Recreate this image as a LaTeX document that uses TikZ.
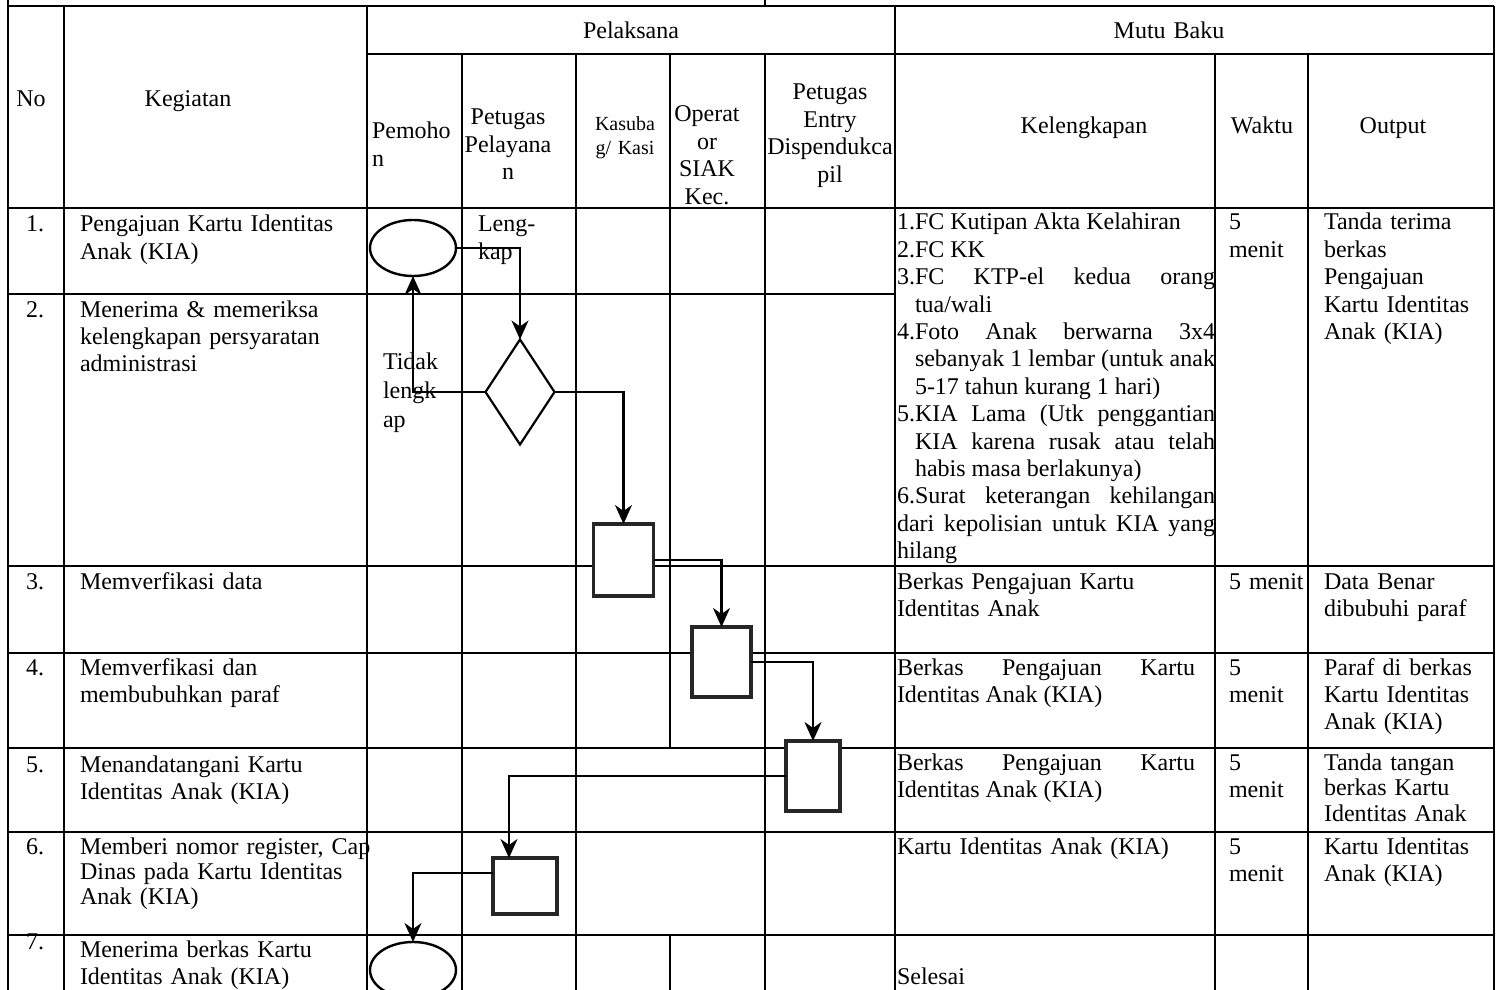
\documentclass[tikz,border=0pt]{standalone}
\usepackage{fontspec}
\setmainfont{Liberation Serif}
\usetikzlibrary{shapes.geometric,arrows.meta}

\begin{document}
\begin{tikzpicture}[x=0.5pt,y=-0.5pt,
	every node/.style={inner sep=0pt,outer sep=0pt,font=\fontsize{12}{13.7}\selectfont},
	grid/.style={line width=1pt},
	txt/.style={anchor=base west,align=left,text width=180pt},
	ctr/.style={anchor=base,align=center,text width=90pt},
	par/.style={anchor=base west,align=justify,text width=#1},
	flow/.style={line width=1.1pt,-{Stealth[length=9.5pt,width=8.5pt,inset=3pt]}},
	terminal/.style={draw,ellipse,line width=1.2pt,fill=white,minimum width=43pt,minimum height=28pt},
	decision/.style={draw,diamond,line width=1.1pt,fill=white,minimum width=34.5pt,minimum height=52.5pt},
	proc/.style={draw=black!85,line width=1.6pt,fill=white}]
		\useasboundingbox (0,0) rectangle (1496,990);
		\clip (0,0) rectangle (1496,990);
		
		\draw[grid] (8,6) -- (1494,6);
		\draw[grid] (367,54) -- (1494,54);
		\draw[grid] (8,208) -- (1494,208);
		\draw[grid] (8,294) -- (895,294);
		\draw[grid] (8,566) -- (1494,566);
		\draw[grid] (8,653) -- (1494,653);
		\draw[grid] (8,748) -- (1494,748);
		\draw[grid] (8,832) -- (1494,832);
		\draw[grid] (8,935) -- (1494,935);
		
		\draw[grid] (8,0) -- (8,990);
		\draw[grid] (64,6) -- (64,990);
		\draw[grid] (367,6) -- (367,990);
		\draw[grid] (462,54) -- (462,990);
		\draw[grid] (576,54) -- (576,990);
		\draw[grid] (670,54) -- (670,748) (670,935) -- (670,990);
		\draw[grid] (765,0) -- (765,6) (765,54) -- (765,990);
		\draw[grid] (895,6) -- (895,990);
		\draw[grid] (1215,54) -- (1215,990);
		\draw[grid] (1308,54) -- (1308,990);
		\draw[grid] (1494,6) -- (1494,990);
		
		\node[ctr] (no) at (31,107) {No};
		\node[ctr] (keg) at (188,107) {Kegiatan};
		\node[ctr] (pel) at (631,39) {Pelaksana};
		\node[ctr] (mutu) at (1169,39) {Mutu Baku};
		\node[txt] (pmh) at (372,139) {Pemoho\\n};
		\node[ctr] (ptg) at (508,125) {Petugas\\Pelayana\\n};
		\node[ctr,font=\fontsize{10}{12}\selectfont] (ksb) at (625,131) {Kasuba\\g/ Kasi};
		\node[ctr] (opr) at (707,122) {Operat\\or\\SIAK\\Kec.};
		\node[ctr] (entry) at (830,100) {Petugas\\Entry\\Dispendukca\\pil};
		\node[ctr] (kel) at (1084,134) {Kelengkapan};
		\node[ctr] (wkt) at (1262,134) {Waktu};
		\node[ctr] (outp) at (1393,134) {Output};
		
		\node[txt] (n1) at (26,232) {1.};
		\node[txt] (n2) at (26,317) {2.};
		\node[txt] (n3) at (26,589) {3.};
		\node[txt] (n4) at (26,675) {4.};
		\node[txt] (n5) at (26,772) {5.};
		\node[txt] (n6) at (26,854) {6.};
		\node[txt] (n7) at (26,949) {7.};
		\node[txt] (k1) at (80,232) {Pengajuan Kartu Identitas\\Anak (KIA)};
		\node[txt] (k2) at (80,317) {Menerima \& memeriksa\\kelengkapan persyaratan\\administrasi};
		\node[txt] (k3) at (80,589) {Memverfikasi data};
		\node[txt] (k4) at (80,675) {Memverfikasi dan\\membubuhkan paraf};
		\node[txt] (k5) at (80,772) {Menandatangani Kartu\\Identitas Anak (KIA)};
		\node[txt,font=\fontsize{12}{12.6}\selectfont] (k6) at (80,854) {Memberi nomor register, Cap\\Dinas pada Kartu Identitas\\Anak (KIA)};
		\node[txt] (k7) at (80,957) {Menerima berkas Kartu\\Identitas Anak (KIA)};
		
		\node[par=159pt] (s1) at (897,230) {\parindent=0pt\tolerance=10000\hyphenpenalty=10000\exhyphenpenalty=10000
			\hangindent=9pt\hangafter=1 1.FC Kutipan Akta Kelahiran\par
			\hangindent=9pt\hangafter=1 2.FC KK\par
			\hangindent=9pt\hangafter=1 3.FC KTP-el kedua orang\linebreak tua/wali\par
			\hangindent=9pt\hangafter=1 4.Foto Anak berwarna 3x4\linebreak sebanyak 1 lembar (untuk anak\linebreak 5-17 tahun kurang 1 hari)\par
			\hangindent=9pt\hangafter=1 5.KIA Lama (Utk penggantian\linebreak KIA karena rusak atau telah\linebreak habis masa berlakunya)\par
			\hangindent=9pt\hangafter=1 6.Surat keterangan kehilangan\linebreak dari kepolisian untuk KIA yang\linebreak hilang};
		\node[txt] (s3) at (897,589) {Berkas Pengajuan Kartu\\Identitas Anak};
		\node[par=149pt] (s4) at (897,675) {\tolerance=10000 Berkas Pengajuan Kartu\linebreak Identitas Anak (KIA)};
		\node[par=149pt] (s5) at (897,770) {\tolerance=10000 Berkas Pengajuan Kartu\linebreak Identitas Anak (KIA)};
		\node[txt] (s6) at (897,854) {Kartu Identitas Anak (KIA)};
		\node[txt] (s7) at (897,984) {Selesai};
		
		\node[txt] (w1) at (1229,230) {5\\menit};
		\node[txt] (w3) at (1229,589) {5 menit};
		\node[txt] (w4) at (1229,675) {5\\menit};
		\node[txt] (w5) at (1229,770) {5\\menit};
		\node[txt] (w6) at (1229,854) {5\\menit};
		
		\node[txt] (o1) at (1324,230) {Tanda terima\\berkas\\Pengajuan\\Kartu Identitas\\Anak (KIA)};
		\node[txt] (o3) at (1324,589) {Data Benar\\dibubuhi paraf};
		\node[txt] (o4) at (1324,675) {Paraf di berkas\\Kartu Identitas\\Anak (KIA)};
		\node[txt,font=\fontsize{12}{12.8}\selectfont] (o5) at (1324,770) {Tanda tangan\\berkas Kartu\\Identitas Anak};
		\node[txt] (o6) at (1324,854) {Kartu Identitas\\Anak (KIA)};
		
		\node[terminal] (mulai) at (413,248) {};
		\node[decision] (cek) at (520,392) {};
		\node[proc,minimum width=30pt,minimum height=36pt] (verif) at (623.5,560) {};
		\node[proc,minimum width=29.5pt,minimum height=35pt] (paraf) at (721.5,662) {};
		\node[proc,minimum width=27pt,minimum height=35pt] (ttd) at (813,776) {};
		\node[proc,minimum width=32pt,minimum height=28pt] (reg) at (525,886) {};
		\node[terminal] (selesai) at (413,970) {};
		
		\draw[flow] (mulai.east) -| (cek.north);
		\draw[flow] (cek.west) -| (mulai.south);
		\draw[flow] (cek.east) -| (verif.north);
		\draw[flow] (verif.east) -| (paraf.north);
		\draw[flow] (paraf.east) -| (ttd.north);
		\draw[flow] (ttd.west) -| ([xshift=-8pt]reg.north);
		\draw[flow] ([yshift=6.5pt]reg.west) -| (selesai.north);
		
		\node[txt] (lengkap) at (478,232) {Leng-\\kap};
		\node[txt,font=\fontsize{12}{14.5}\selectfont] (tidak) at (383,369) {Tidak\\lengk\\ap};
	\end{tikzpicture}
\end{document}
